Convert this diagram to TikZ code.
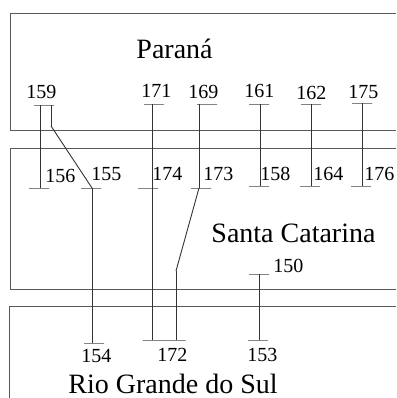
\documentclass[tikz,border=0pt]{standalone}
\usepackage{fontspec}
\setmainfont{Liberation Serif}
\begin{document}
\begin{tikzpicture}[x=1pt, y=-1pt, line width=0.9pt,
                    region/.style={draw=black!65},
                    bus/.style={draw=black!75, minimum width=20pt, minimum height=0pt,
                                inner sep=0pt, outer sep=0pt},
                    tie/.style={draw=black!80},
                    num/.style={anchor=base west, inner sep=0pt, font=\fontsize{20}{24}\selectfont},
                    state/.style={anchor=base west, inner sep=0pt, font=\fontsize{28}{32}\selectfont}]
    \useasboundingbox (0,0) rectangle (396,398);

    \draw[region] (396,13) -- (10,13) -- (10,130) -- (396,130);
    \draw[region] (396,148) -- (10,148) -- (10,289) -- (396,289);
    \draw[region] (396,306) -- (9,306) -- (9,398);

    \node[state] (pr) at (136,59)  {Paraná};
    \node[state] (sc) at (211,242) {Santa Catarina};
    \node[state] (rs) at (68,393)  {Rio Grande do Sul};

    \node[bus] (b159) at (44,105)  {};
    \node[bus] (b171) at (154,104) {};
    \node[bus] (b169) at (207,104) {};
    \node[bus] (b161) at (259,104) {};
    \node[bus] (b162) at (311,104) {};
    \node[bus] (b175) at (362,103) {};
    \node[bus] (b156) at (39,188)  {};
    \node[bus] (b155) at (91,188)  {};
    \node[bus] (b174) at (148,188) {};
    \node[bus] (b173) at (201,188) {};
    \node[bus] (b158) at (259,186) {};
    \node[bus] (b164) at (310,186) {};
    \node[bus] (b176) at (361,186) {};
    \node[bus] (b150) at (259,274) {};
    \node[bus] (b154) at (94,343)  {};
    \node[bus, minimum width=43pt] (b172) at (164,340) {};
    \node[bus] (b153) at (258,340) {};

    \coordinate (k159) at (51,126);
    \coordinate (k173) at (176,271);

    \node[num] (l159) at (26,99)   {159};
    \node[num] (l171) at (141,98)  {171};
    \node[num] (l169) at (188,99)  {169};
    \node[num] (l161) at (244,98)  {161};
    \node[num] (l162) at (296,100) {162};
    \node[num] (l175) at (348,99)  {175};
    \node[num] (l156) at (45,182)  {156};
    \node[num] (l155) at (91,180)  {155};
    \node[num] (l174) at (152,180) {174};
    \node[num] (l173) at (203,180) {173};
    \node[num] (l158) at (260,180) {158};
    \node[num] (l164) at (313,180) {164};
    \node[num] (l176) at (364,180) {176};
    \node[num] (l150) at (273,272) {150};
    \node[num] (l154) at (81,362)  {154};
    \node[num] (l172) at (157,361) {172};
    \node[num] (l153) at (247,361) {153};

    \path[tie]
    (b159 -| 40,0) edge (b156 -| 40,0)
    (b159 -| 51,0) edge (k159)
    (k159) edge (b155 -| 92,0)
    (b155 -| 92,0) edge (b154 -| 92,0)
    (b171 -| 152,0) edge (b172 -| 152,0)
    (b169 -| 199,0) edge (b173 -| 199,0)
    (b173 -| 199,0) edge (k173)
    (k173) edge (b172 -| 176,0)
    (b161 -| 260,0) edge (b158 -| 260,0)
    (b162 -| 311,0) edge (b164 -| 311,0)
    (b175 -| 362,0) edge (b176 -| 362,0)
    (b150 -| 259,0) edge (b153 -| 259,0);
\end{tikzpicture}
\end{document}
